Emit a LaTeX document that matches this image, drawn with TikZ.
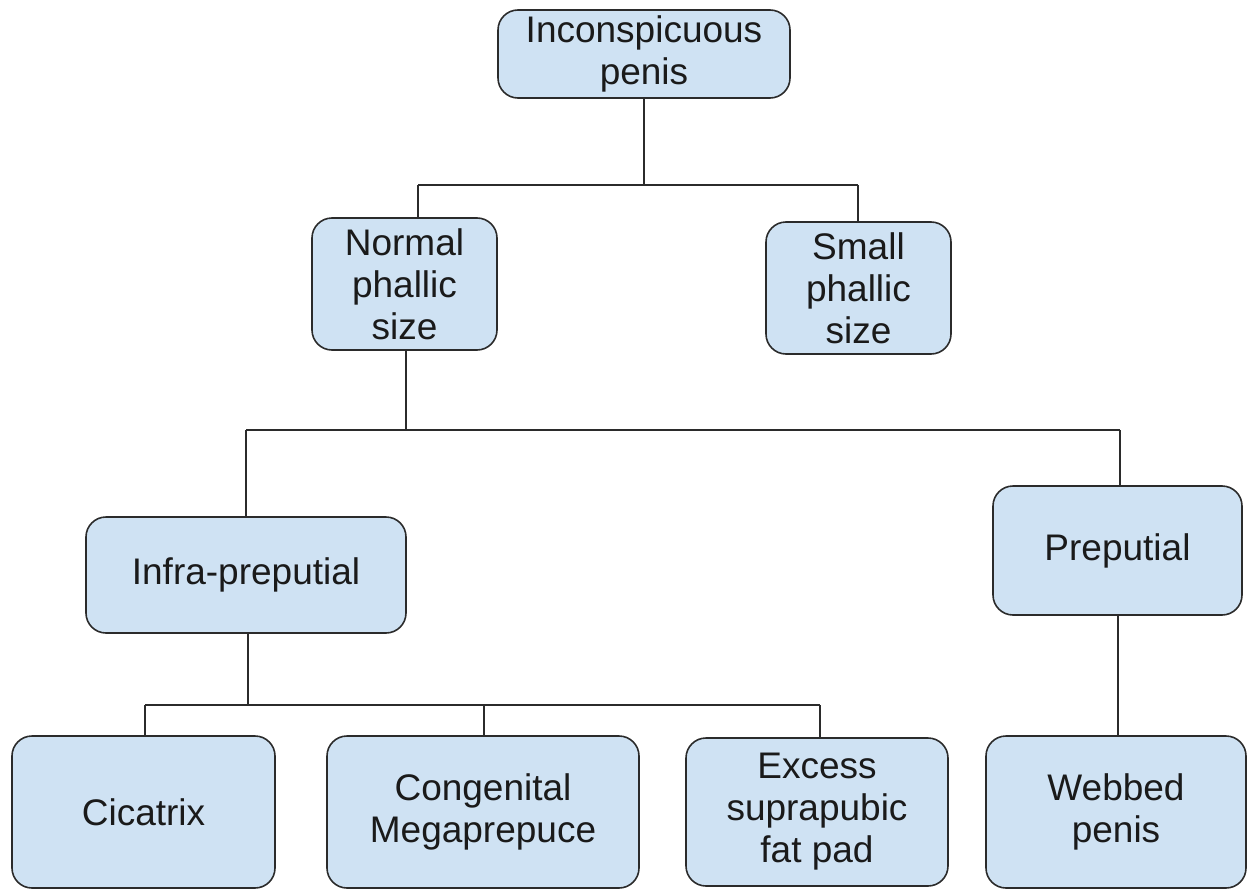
\documentclass[tikz,border=0pt]{standalone}
\usepackage{fontspec}
\setmainfont{Liberation Sans}
\definecolor{boxfill}{HTML}{CFE2F3}
\definecolor{boxline}{HTML}{2B2B2B}
\definecolor{txt}{HTML}{1A1A1A}
\begin{document}
\begin{tikzpicture}[x=1pt,y=-1pt,
  box/.style={draw=boxline,fill=boxfill,line width=1.6pt,rounded corners=20pt,
    inner sep=0pt,align=center,text=txt,font=\fontsize{37}{42}\selectfont},
  conn/.style={draw=boxline,line width=1.6pt}]
\useasboundingbox (0,0) rectangle (1248,891);
\node[box,minimum width=292pt,minimum height=88pt] (top) at (644,54) {Inconspicuous\\penis};
\node[box,minimum width=185pt,minimum height=132pt] (normal) at (404.5,284) {Normal\\phallic\\size};
\node[box,minimum width=185pt,minimum height=132pt] (small) at (858.5,288) {Small\\phallic\\size};
\node[box,minimum width=320pt,minimum height=116pt] (infra) at (246,575) {Infra-preputial};
\node[box,minimum width=249pt,minimum height=129pt] (prep) at (1117.5,550.5) {Preputial};
\node[box,minimum width=263pt,minimum height=152pt] (cic) at (143.5,812) {Cicatrix};
\node[box,minimum width=312pt,minimum height=152pt] (cong) at (483,812) {Congenital\\Megaprepuce};
\node[box,minimum width=262pt,minimum height=148pt] (exc) at (817,812) {Excess\\suprapubic\\fat pad};
\node[box,minimum width=260pt,minimum height=152pt] (web) at (1116,812) {Webbed\\penis};
% junctions
\coordinate (j1) at (644,185);
\coordinate (j1l) at (418,185);
\coordinate (j1r) at (858,185);
\coordinate (j2) at (406,430);
\coordinate (j2l) at (246,430);
\coordinate (j2r) at (1120,430);
\coordinate (j3) at (248,705);
\coordinate (j3l) at (145,705);
\coordinate (j3m) at (484,705);
\coordinate (j3r) at (820,705);
\coordinate (j4) at (1118,600);
% connectors
\draw[conn] (top.south) -- (j1);
\draw[conn] (j1l) -- (j1r);
\draw[conn] (j1l) -- (j1l |- normal.north);
\draw[conn] (j1r) -- (j1r |- small.north);
\draw[conn] (j2 |- normal.south) -- (j2);
\draw[conn] (j2l) -- (j2r);
\draw[conn] (j2l) -- (j2l |- infra.north);
\draw[conn] (j2r) -- (j2r |- prep.north);
\draw[conn] (j3 |- infra.south) -- (j3);
\draw[conn] (j3l) -- (j3r);
\draw[conn] (j3l) -- (j3l |- cic.north);
\draw[conn] (j3m) -- (j3m |- cong.north);
\draw[conn] (j3r) -- (j3r |- exc.north);
\draw[conn] (j4 |- prep.south) -- (j4 |- web.north);
\end{tikzpicture}
\end{document}
